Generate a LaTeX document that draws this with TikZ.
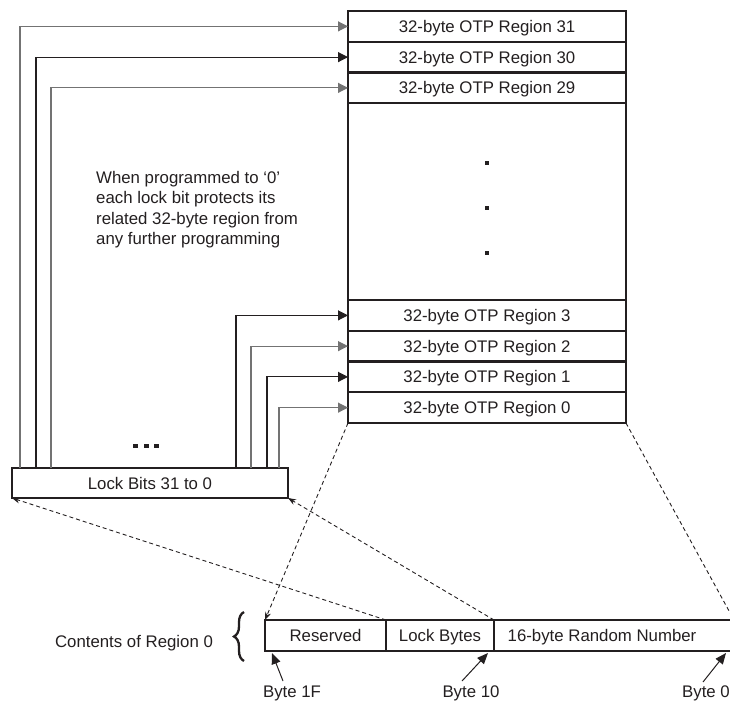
\documentclass[tikz,border=0pt]{standalone}
\usepackage{fontspec}
\setmainfont{Liberation Sans}
\usetikzlibrary{arrows.meta,decorations.pathreplacing}
\definecolor{ink}{HTML}{231F20}
\begin{document}
\begin{tikzpicture}[x=1pt,y=-1pt,
  every node/.style={font=\fontsize{16.8}{20.5}\selectfont, text=ink},
  rowbox/.style={draw=ink, line width=2.2pt, minimum width=278pt, minimum height=30.75pt,
    inner sep=0pt, outer sep=0pt, anchor=north west, text height=12pt, text depth=0pt},
  plainbox/.style={draw=ink, line width=2.2pt, inner sep=0pt, outer sep=0pt, anchor=north west,
    text height=12pt, text depth=0pt},
  conn/.style={draw=ink, line width=1.1pt, -{Triangle[length=10pt,width=10pt]}},
  conng/.style={conn, draw=black!55},
  dasharrow/.style={draw=ink, line width=0.9pt, dash pattern=on 4pt off 3pt,
    -{Stealth[length=8pt,width=6pt]}},
  dashline/.style={draw=ink, line width=0.9pt, dash pattern=on 4pt off 3pt},
  bytearrow/.style={draw=ink, line width=1pt, -{Triangle[length=11pt,width=9pt]}},
  dotmark/.style={fill=ink, inner sep=0pt, outer sep=0pt, minimum width=3.8pt, minimum height=3.8pt},
  bigdot/.style={fill=ink, inner sep=0pt, outer sep=0pt, minimum width=5pt, minimum height=4.5pt},
  bracestyle/.style={draw=ink, line width=2.3pt, decorate, decoration={brace, amplitude=10pt}}
]
\useasboundingbox (0,0) rectangle (730,702);

% main column of regions
\node[rowbox] (r31) at (348,11) {32-byte OTP Region 31};
\node[rowbox] (r30) at (348,41.75) {32-byte OTP Region 30};
\node[rowbox] (r29) at (348,72.5) {32-byte OTP Region 29};
\node[rowbox, minimum height=196.75pt] (mid) at (348,103.25) {};
\node[rowbox] (r3) at (348,300) {32-byte OTP Region 3};
\node[rowbox] (r2) at (348,330.75) {32-byte OTP Region 2};
\node[rowbox] (r1) at (348,361.5) {32-byte OTP Region 1};
\node[rowbox] (r0) at (348,392.25) {32-byte OTP Region 0};

% vertical dots in middle area
\node[dotmark] (d1) at (487,163) {};
\node[dotmark] (d2) at (487,208) {};
\node[dotmark] (d3) at (487,253) {};

% lock bits box
\node[plainbox, minimum width=276pt, minimum height=30pt] (lock) at (12,468) {Lock Bits 31 to 0};

% horizontal dots above lock bits
\node[bigdot] (h1) at (135.5,446) {};
\node[bigdot] (h2) at (146,446) {};
\node[bigdot] (h3) at (156.5,446) {};

% start points on lock box top
\coordinate (c31) at (20,468);
\coordinate (c30) at (36,468);
\coordinate (c29) at (51,468);
\coordinate (c3) at (236,468);
\coordinate (c2) at (251,468);
\coordinate (c1) at (267,468);
\coordinate (c0) at (279,468);

\draw[conng] (c31) |- (r31.west);
\draw[conn]  (c30) |- (r30.west);
\draw[conng] (c29) |- (r29.west);
\draw[conn]  (c3) |- (r3.west);
\draw[conng] (c2) |- (r2.west);
\draw[conn]  (c1) |- (r1.west);
\draw[conng] (c0) |- (r0.west);

% note text
\node[anchor=north west, align=left, inner sep=0pt] (note) at (96,171)
  {When programmed to ‘0’\\each lock bit protects its\\related 32-byte region from\\any further programming};

% contents of region 0
\node[plainbox, minimum width=121pt, minimum height=31pt] (res) at (265,620) {Reserved};
\node[plainbox, minimum width=108pt, minimum height=31pt] (lb) at (386,620) {Lock Bytes};
\node[plainbox, minimum width=240pt, minimum height=31pt] (rnd) at (494,620) {};
\node[text height=12pt, text depth=0pt, inner sep=0pt] (rndtxt) at (602,635.5) {16-byte Random Number};

\node[text height=12pt, text depth=0pt, inner sep=0pt] (contents) at (134,641) {Contents of Region 0};
\coordinate (brtop) at (244,612);
\coordinate (brbot) at (244,661);
\draw[bracestyle] (brbot) -- (brtop);

% dashed projections
\draw[dasharrow] (r0.south west) -- (res.north west);
\draw[dashline] (r0.south east) -- (rnd.north east);
\draw[dasharrow] (lb.north west) -- (lock.south west);
\draw[dasharrow] (lb.north east) -- (lock.south east);

% byte labels
\node[anchor=base] (b1f) at (292,697.5) {Byte 1F};
\node[anchor=base] (b10) at (471,697.5) {Byte 10};
\node[anchor=base] (b0) at (706,697.5) {Byte 0};
\coordinate (t1f) at (283,681);
\coordinate (h1f) at (272,653);
\coordinate (t10) at (462,681);
\coordinate (h10) at (488,653);
\coordinate (t0) at (703,682);
\coordinate (h0) at (726,653);
\draw[bytearrow] (t1f) -- (h1f);
\draw[bytearrow] (t10) -- (h10);
\draw[bytearrow] (t0) -- (h0);
\end{tikzpicture}
\end{document}
